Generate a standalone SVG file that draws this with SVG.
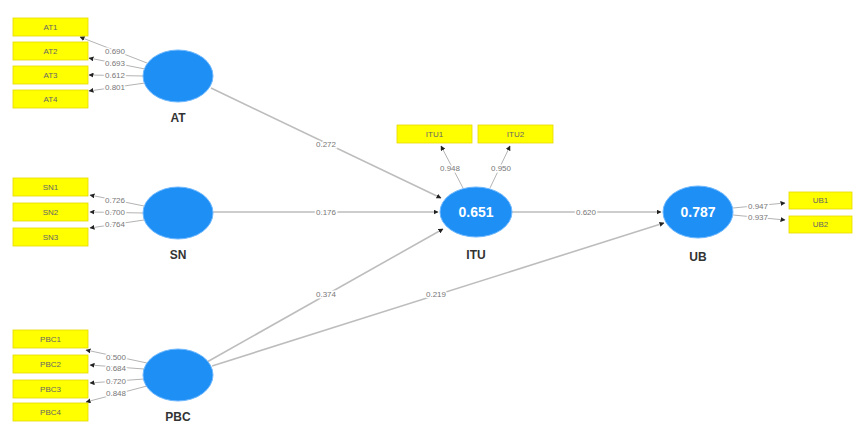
<svg xmlns="http://www.w3.org/2000/svg" width="854" height="423" viewBox="0 0 854 423">
<defs>
<marker id="ah" markerUnits="userSpaceOnUse" markerWidth="5" markerHeight="5" refX="4.5" refY="2.5" orient="auto">
<path d="M0,0 L5,2.5 L0,5 z" fill="#222"/>
</marker>
</defs>
<style>
.box{fill:#ffff00;stroke:#e6d800;stroke-width:0.8}
.bt{font-family:"Liberation Sans",Arial,sans-serif;font-size:8px;fill:#666;text-anchor:middle;dominant-baseline:central}
.lv{fill:#1e8ff5;stroke:#6fb8ff;stroke-width:1}
.lt{font-family:"Liberation Sans",Arial,sans-serif;font-size:12px;font-weight:bold;fill:#333;text-anchor:middle}
.r2{font-family:"Liberation Sans",Arial,sans-serif;font-size:14px;font-weight:bold;fill:#fff;text-anchor:middle;dominant-baseline:central}
.ol{stroke:#aaa;stroke-width:0.9;fill:none;marker-end:url(#ah)}
.sl{stroke:#bdbdbd;stroke-width:1.6;fill:none;marker-end:url(#ah)}
.el{font-family:"Liberation Sans",Arial,sans-serif;font-size:8px;fill:#777;text-anchor:middle;dominant-baseline:central;stroke:#fff;stroke-width:3px;paint-order:stroke}
</style>
<rect width="854" height="423" fill="#fff"/>
<g id="connectors">
<line class="ol" x1="147" y1="63" x2="80" y2="37"/>
<line class="ol" x1="145" y1="69" x2="89" y2="58"/>
<line class="ol" x1="144" y1="76" x2="89" y2="75"/>
<line class="ol" x1="145" y1="83" x2="89" y2="91"/>
<line class="ol" x1="144" y1="206" x2="90" y2="195"/>
<line class="ol" x1="143" y1="213" x2="90" y2="212"/>
<line class="ol" x1="144" y1="220" x2="90" y2="228"/>
<line class="ol" x1="147" y1="363" x2="86" y2="350"/>
<line class="ol" x1="144" y1="369" x2="90" y2="365"/>
<line class="ol" x1="144" y1="379" x2="90" y2="383"/>
<line class="ol" x1="147" y1="386" x2="86" y2="402"/>
<line class="ol" x1="463" y1="188" x2="441" y2="146"/>
<line class="ol" x1="490" y1="188" x2="510" y2="146"/>
<line class="ol" x1="733" y1="208" x2="785" y2="203"/>
<line class="ol" x1="733" y1="215" x2="785" y2="220"/>
<line class="sl" x1="211" y1="88" x2="441" y2="198"/>
<line class="sl" x1="213" y1="212" x2="438" y2="212"/>
<line class="sl" x1="207" y1="362" x2="443" y2="229"/>
<line class="sl" x1="212" y1="366" x2="664" y2="223"/>
<line class="sl" x1="512" y1="212" x2="661" y2="212"/>
<text class="el" x="115" y="51">0.690</text>
<text class="el" x="115" y="63">0.693</text>
<text class="el" x="115" y="75">0.612</text>
<text class="el" x="115" y="87">0.801</text>
<text class="el" x="115" y="200">0.726</text>
<text class="el" x="115" y="212">0.700</text>
<text class="el" x="115" y="224">0.764</text>
<text class="el" x="116" y="357">0.500</text>
<text class="el" x="116" y="368">0.684</text>
<text class="el" x="116" y="381">0.720</text>
<text class="el" x="116" y="393">0.848</text>
<text class="el" x="450" y="168">0.948</text>
<text class="el" x="501" y="168">0.950</text>
<text class="el" x="758" y="206">0.947</text>
<text class="el" x="758" y="217">0.937</text>
<text class="el" x="326" y="144">0.272</text>
<text class="el" x="326" y="212">0.176</text>
<text class="el" x="326" y="294">0.374</text>
<text class="el" x="436" y="294">0.219</text>
<text class="el" x="586" y="212">0.620</text>
</g>
<g id="AT1"><rect class="box" x="13" y="18" width="75" height="18"/><text class="bt" x="50.5" y="27">AT1</text></g>
<g id="AT2"><rect class="box" x="13" y="42" width="75" height="18"/><text class="bt" x="50.5" y="51">AT2</text></g>
<g id="AT3"><rect class="box" x="13" y="66" width="75" height="18"/><text class="bt" x="50.5" y="75">AT3</text></g>
<g id="AT4"><rect class="box" x="13" y="90" width="75" height="18"/><text class="bt" x="50.5" y="99">AT4</text></g>
<g id="SN1"><rect class="box" x="13" y="178" width="75" height="18"/><text class="bt" x="50.5" y="187">SN1</text></g>
<g id="SN2"><rect class="box" x="13" y="203" width="75" height="18"/><text class="bt" x="50.5" y="212">SN2</text></g>
<g id="SN3"><rect class="box" x="13" y="228" width="75" height="18"/><text class="bt" x="50.5" y="237">SN3</text></g>
<g id="PBC1"><rect class="box" x="13" y="330" width="75" height="18"/><text class="bt" x="50.5" y="339">PBC1</text></g>
<g id="PBC2"><rect class="box" x="13" y="355" width="75" height="18"/><text class="bt" x="50.5" y="364">PBC2</text></g>
<g id="PBC3"><rect class="box" x="13" y="380" width="75" height="18"/><text class="bt" x="50.5" y="389">PBC3</text></g>
<g id="PBC4"><rect class="box" x="13" y="403" width="75" height="18"/><text class="bt" x="50.5" y="412">PBC4</text></g>
<g id="ITU1"><rect class="box" x="397" y="125" width="75" height="18"/><text class="bt" x="434.5" y="134">ITU1</text></g>
<g id="ITU2"><rect class="box" x="478" y="125" width="75" height="18"/><text class="bt" x="515.5" y="134">ITU2</text></g>
<g id="UB1"><rect class="box" x="789" y="192" width="63" height="17"/><text class="bt" x="820.5" y="200.5">UB1</text></g>
<g id="UB2"><rect class="box" x="789" y="216" width="63" height="17"/><text class="bt" x="820.5" y="224.5">UB2</text></g>
<g id="AT"><ellipse class="lv" cx="178" cy="76" rx="35" ry="26"/><text class="lt" x="178" y="122">AT</text></g>
<g id="SN"><ellipse class="lv" cx="178" cy="213" rx="35" ry="26"/><text class="lt" x="178" y="259">SN</text></g>
<g id="PBC"><ellipse class="lv" cx="178" cy="375" rx="35" ry="26"/><text class="lt" x="178" y="421">PBC</text></g>
<g id="ITU"><ellipse class="lv" cx="476" cy="212" rx="36" ry="25"/><text class="r2" x="476" y="212">0.651</text><text class="lt" x="476" y="259">ITU</text></g>
<g id="UB"><ellipse class="lv" cx="698" cy="212" rx="35" ry="26"/><text class="r2" x="698" y="212">0.787</text><text class="lt" x="698" y="261">UB</text></g>
</svg>
